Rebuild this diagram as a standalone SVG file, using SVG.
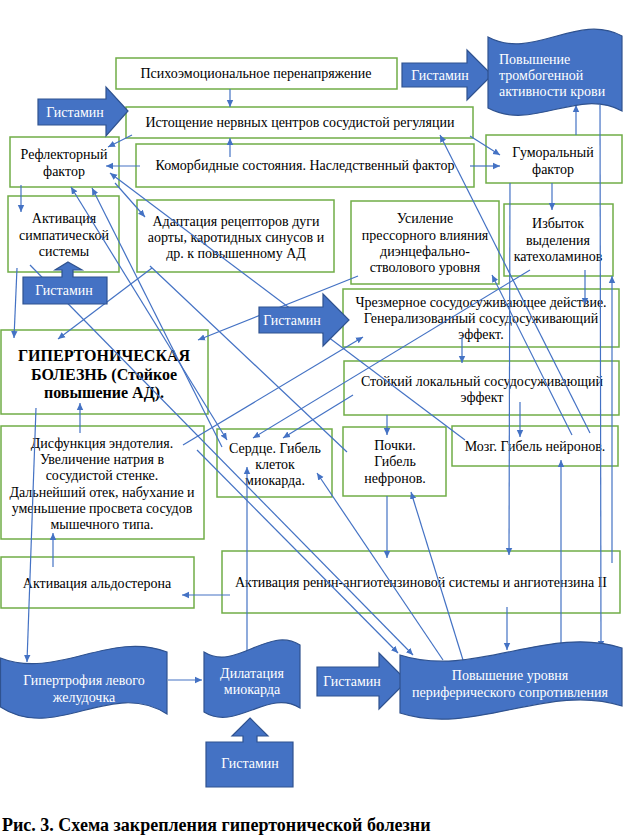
<svg xmlns="http://www.w3.org/2000/svg" width="624" height="836" viewBox="0 0 624 836">
<defs>
<style>
.box{fill:#fff;stroke:#70AD47;stroke-width:1.5}
.blue{fill:#4472C4;stroke:#2F528F;stroke-width:1.2}
.t{font-family:"Liberation Serif","Times New Roman",serif;font-size:14px;fill:#000;text-anchor:middle}
.w{fill:#fff}
.b{font-weight:bold;font-size:16px}
.c{stroke:#4472C4;stroke-width:1.2;fill:none;marker-end:url(#a)}
.p{stroke:#4472C4;stroke-width:1.2;fill:none}
</style>
<marker id="a" markerWidth="8" markerHeight="8" refX="7" refY="4" orient="auto-start-reverse" markerUnits="userSpaceOnUse"><path d="M0,0.8 L7,4 L0,7.2 z" fill="#4472C4"/></marker>
</defs>
<rect width="624" height="836" fill="#fff"/>

<g id="n-psycho"><rect class="box" x="116" y="58" width="281" height="31"/><text class="t" x="256" y="78">Психоэмоциональное перенапряжение</text></g>
<g id="n-istoshch"><rect class="box" x="126" y="107" width="347" height="31"/><text class="t" x="300" y="127">Истощение нервных центров сосудистой регуляции</text></g>
<g id="n-reflex"><rect class="box" x="10" y="137" width="109" height="50"/><text class="t" x="64" y="159">Рефлекторный</text><text class="t" x="64" y="176">фактор</text></g>
<g id="n-komorb"><rect class="box" x="136" y="144" width="338" height="43"/><text class="t" x="305" y="170">Коморбидные состояния. Наследственный фактор</text></g>
<g id="n-humor"><rect class="box" x="486" y="135" width="136" height="48"/><text class="t" x="553" y="157">Гуморальный</text><text class="t" x="553" y="174">фактор</text></g>
<g id="n-simpat"><rect class="box" x="8" y="196" width="111" height="76"/><text class="t" x="64" y="223">Активация</text><text class="t" x="64" y="240">симпатической</text><text class="t" x="64" y="256">системы</text></g>
<g id="n-adapt"><rect class="box" x="137" y="200" width="197" height="72"/><text class="t" x="236" y="226">Адаптация рецепторов дуги</text><text class="t" x="236" y="242">аорты, каротидных синусов и</text><text class="t" x="236" y="258">др. к повышенному АД</text></g>
<g id="n-pressor"><rect class="box" x="351" y="201" width="148" height="83"/><text class="t" x="425" y="223">Усиление</text><text class="t" x="425" y="240">прессорного влияния</text><text class="t" x="425" y="256">диэнцефально-</text><text class="t" x="425" y="272">стволового уровня</text></g>
<g id="n-katehol"><rect class="box" x="504" y="204" width="109" height="72"/><text class="t" x="558" y="228">Избыток</text><text class="t" x="558" y="245">выделения</text><text class="t" x="558" y="261">катехоламинов</text></g>
<g id="n-gb"><rect class="box" x="1" y="330" width="207" height="84"/><text class="t b" x="104" y="361">ГИПЕРТОНИЧЕСКАЯ</text><text class="t b" x="104" y="380">БОЛЕЗНЬ (Стойкое</text><text class="t b" x="104" y="398">повышение АД).</text></g>
<g id="n-chrezm"><rect class="box" x="343" y="289" width="276" height="58"/><text class="t" x="481" y="307">Чрезмерное сосудосуживающее действие.</text><text class="t" x="481" y="323">Генерализованный сосудосуживающий</text><text class="t" x="481" y="339">эффект.</text></g>
<g id="n-stoyk"><rect class="box" x="344" y="361" width="275" height="54"/><text class="t" x="482" y="386">Стойкий локальный сосудосуживающий</text><text class="t" x="482" y="402">эффект</text></g>
<g id="n-disf"><rect class="box" x="1" y="426" width="203" height="113"/><text class="t" x="102" y="448">Дисфункция эндотелия.</text><text class="t" x="102" y="464">Увеличение натрия в</text><text class="t" x="102" y="480">сосудистой стенке.</text><text class="t" x="102" y="497">Дальнейший отек, набухание и</text><text class="t" x="102" y="513">уменьшение просвета сосудов</text><text class="t" x="102" y="529">мышечного типа.</text></g>
<g id="n-serdce"><rect class="box" x="217" y="429" width="115" height="68"/><text class="t" x="275" y="453">Сердце. Гибель</text><text class="t" x="275" y="469">клеток</text><text class="t" x="275" y="485">миокарда.</text></g>
<g id="n-pochki"><rect class="box" x="343" y="427" width="103" height="69"/><text class="t" x="395" y="450">Почки.</text><text class="t" x="395" y="466">Гибель</text><text class="t" x="395" y="483">нефронов.</text></g>
<g id="n-mozg"><rect class="box" x="452" y="426" width="166" height="40"/><text class="t" x="535" y="451">Мозг. Гибель нейронов.</text></g>
<g id="n-aldo"><rect class="box" x="1" y="557" width="193" height="51"/><text class="t" x="97" y="588">Активация альдостерона</text></g>
<g id="n-renin"><rect class="box" x="222" y="551" width="398" height="62"/><text class="t" x="421" y="587">Активация ренин-ангиотензиновой системы и ангиотензина II</text></g>

<g id="connectors">
<path class="c" d="M230,89 L230,107"/>
<path class="c" d="M230,157 L230,138"/>
<path class="c" d="M132,135 L108,147"/>
<path class="c" d="M140,166 L106,166"/>
<path class="c" d="M470,136 L500,155"/>
<path class="c" d="M470,166 L500,166"/>
<path class="c" d="M576,135 L576,105"/>
<path class="c" d="M600,105 L601,648"/>
<path class="c" d="M552,183 L552,210"/>
<path class="c" d="M510,183 L509,555"/>
<path class="c" d="M612,563 L612,276"/>
<path class="c" d="M585,270 L585,305"/>
<path class="c" d="M21,185 L21,212"/>
<path class="c" d="M115,183 L145,217"/>
<path class="c" d="M17,268 L14,338"/>
<path class="c" d="M152,268 L58,339"/>
<path class="c" d="M358,276 L198,340"/>
<path class="c" d="M80,433 L80,403"/>
<path class="c" d="M53,567 L53,533"/>
<path class="c" d="M230,595 L182,595"/>
<path class="c" d="M36,408 L27,662"/>
<path class="c" d="M168,680 L202,680"/>
<path class="c" d="M247,655 L247,467"/>
<path class="c" d="M462,337 L462,363"/>
<path class="c" d="M387,415 L387,435"/>
<path class="c" d="M520,402 L520,437"/>
<path class="c" d="M353,395 L283,438"/>
<path class="c" d="M530,270 L253,438"/>
<path class="c" d="M183,445 L363,337"/>
<path class="c" d="M387,496 L387,558"/>
<path class="c" d="M507,607 L507,650"/>
<path class="c" d="M561,647 L561,460"/>
<path class="c" d="M463,660 L411,492"/>
<path class="c" d="M443,660 L317,473"/>
<path class="c" d="M590,433 L440,135"/>
<path class="c" d="M572,435 L492,275"/>
<path class="c" d="M465,440 L110,173"/>
<path class="c" style="marker-start:url(#a)" d="M71,187 L227,440"/>
<path class="c" d="M222,447 L92,188"/>
<path class="p" d="M150,266 L347,452"/>
<path class="c" d="M30,265 L413,655"/>
<path class="c" d="M197,450 L398,653"/>
</g>

<g id="h-top-left"><path class="blue" d="M38,99 H106 V87 L128,111 L106,136 V125 H38 Z"/><text class="t w" x="75" y="117">Гистамин</text></g>
<g id="h-top-right"><path class="blue" d="M402,63 H467 V50 L492,75 L467,100 V87 H402 Z"/><text class="t w" x="440" y="80">Гистамин</text></g>
<g id="n-tromb"><path class="blue" d="M488,37 C532.7,61 577.3,12 622,36 L622,111 C577.3,87 532.7,132 488,108 Z"/><text class="t w" style="text-anchor:start" x="499" y="64">Повышение</text><text class="t w" style="text-anchor:start" x="499" y="80">тромбогенной</text><text class="t w" style="text-anchor:start" x="499" y="96">активности крови</text></g>
<g id="h-up-simpat"><path class="blue" d="M68,262 L82,270 H73 V277 H107 V304 H23 V277 H62 V270 H55 Z"/><text class="t w" x="64" y="295">Гистамин</text></g>
<g id="h-mid"><path class="blue" d="M259,307 H323 V294 L349,320 L323,346 V333 H259 Z"/><text class="t w" x="292" y="325">Гистамин</text></g>
<g id="n-hypertrof"><path class="blue" d="M0.5,658 C55.7,680 111.3,630 167,652 L167,714 C111.3,678 55.7,743 0.5,707 Z"/><text class="t w" x="84" y="685">Гипертрофия левого</text><text class="t w" x="84" y="702">желудочка</text></g>
<g id="n-dilat"><path class="blue" d="M204,652 C236,672 268,625 300,645 L300,708 C268,688 236,732 204,712 Z"/><text class="t w" x="252" y="678">Дилатация</text><text class="t w" x="252" y="694">миокарда</text></g>
<g id="h-bottom-up"><path class="blue" d="M250,718 L268,736 H257 V742 H293 V787 H206 V742 H243 V736 H232 Z"/><text class="t w" x="250" y="768">Гистамин</text></g>
<g id="h-bottom-right"><path class="blue" d="M317,667 H379 V653 L407,681 L379,709 V696 H317 Z"/><text class="t w" x="352" y="686">Гистамин</text></g>
<g id="n-periph"><path class="blue" d="M400,655 C474,679 548,624 622,648 L622,706 C548,682 474,737 400,713 Z"/><text class="t w" x="510" y="680">Повышение уровня</text><text class="t w" x="510" y="697">периферического сопротивления</text></g>

<text x="2" y="831" style="font-family:'Liberation Serif','Times New Roman',serif;font-size:18px;font-weight:bold;fill:#000">Рис. 3. Схема закрепления гипертонической болезни</text>
</svg>
